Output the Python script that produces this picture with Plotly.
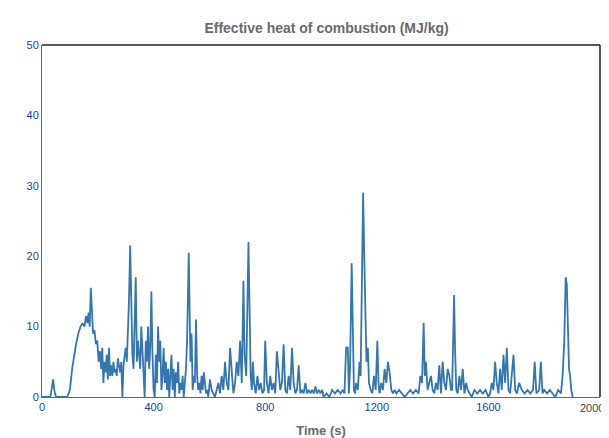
import plotly.graph_objects as go

time_s = [
    0, 30, 36, 40, 44, 50, 90, 100, 108, 115,
    122, 130, 138, 145, 152, 158, 163, 167, 171, 175,
    179, 183, 188, 193, 198, 203, 208, 212, 216, 220,
    224, 228, 232, 236, 240, 244, 248, 252, 256, 260,
    264, 268, 272, 276, 280, 284, 288, 292, 296, 300,
    304, 308, 312, 316, 320, 324, 328, 332, 336, 340,
    344, 348, 352, 356, 360, 364, 368, 372, 376, 380,
    384, 388, 392, 396, 400, 404, 408, 412, 416, 420,
    424, 428, 432, 436, 440, 444, 448, 452, 456, 460,
    464, 468, 472, 476, 480, 484, 488, 492, 496, 500,
    504, 508, 512, 516, 520, 526, 532, 536, 540, 544,
    548, 552, 556, 560, 564, 568, 572, 576, 580, 584,
    588, 592, 596, 602, 608, 614, 620, 626, 632, 638,
    644, 650, 656, 662, 668, 674, 680, 686, 692, 698,
    704, 710, 716, 722, 726, 732, 740, 744, 748, 752,
    756, 760, 766, 772, 778, 784, 790, 796, 800, 806,
    812, 818, 824, 830, 836, 842, 848, 854, 860, 866,
    872, 878, 884, 890, 896, 902, 908, 914, 920, 926,
    932, 938, 944, 950, 956, 962, 968, 974, 980, 986,
    992, 998, 1004, 1010, 1020, 1030, 1040, 1050, 1060, 1070,
    1078, 1084, 1090, 1096, 1100, 1104, 1110, 1114, 1118, 1122,
    1126, 1132, 1138, 1142, 1146, 1151, 1155, 1159, 1163, 1168,
    1172, 1178, 1184, 1190, 1196, 1202, 1206, 1210, 1216, 1222,
    1228, 1234, 1240, 1246, 1252, 1258, 1264, 1270, 1280, 1290,
    1300, 1310, 1320, 1330, 1340, 1350, 1356, 1362, 1368, 1372,
    1376, 1382, 1388, 1394, 1400, 1406, 1412, 1418, 1424, 1430,
    1436, 1442, 1448, 1454, 1460, 1466, 1470, 1477, 1481, 1485,
    1490, 1496, 1502, 1508, 1514, 1520, 1526, 1532, 1540, 1550,
    1560, 1570, 1580, 1590, 1600, 1606, 1612, 1618, 1624, 1630,
    1636, 1642, 1648, 1654, 1660, 1666, 1672, 1678, 1684, 1690,
    1696, 1702, 1710, 1720, 1730, 1740, 1750, 1760, 1766, 1772,
    1782, 1788, 1794, 1800, 1810, 1820, 1830, 1840, 1850, 1860,
    1866, 1872, 1877, 1881, 1885, 1889, 1893, 1897, 1902,
]
heat_mj_kg = [
    0, 0, 1.5, 2.5, 1, 0, 0, 1, 4, 6,
    7.5, 9, 10, 10.5, 10, 11.5, 10.5, 12, 10, 15.5,
    11, 9, 9.5, 7.5, 8, 5, 6.5, 4, 7, 2,
    5, 3.5, 6, 2.5, 7, 3, 4.5, 3, 5, 3.5,
    4, 3, 5.5, 4, 3.5, 5, 0, 4.5, 6, 7,
    5, 9, 14, 21.5, 12, 6, 4, 9, 17, 5,
    8, 6, 4, 10, 6, 3, 0, 8, 5, 10,
    4, 7, 15, 6, 1, 0, 6, 2, 10, 5,
    8, 1, 3, 7, 2, 5, 1, 4, 0, 3,
    6, 1, 4, 0, 3.5, 2, 5, 0.5, 2, 1,
    3, 0, 2, 4, 8, 20.5, 5, 9, 1, 3,
    2, 11, 3, 1, 2, 0.5, 3, 1, 3.5, 2,
    0.5, 1, 0, 2.5, 1, 0.5, 0, 1, 2, 0.5,
    3, 1, 5, 2, 1, 7, 3, 0.5, 2, 5,
    3, 8, 2, 16.5, 6, 3, 22, 10, 3, 1,
    5, 2, 0.5, 3, 1, 2, 0.5, 1, 8, 2,
    0.5, 3, 1, 2, 0.5, 6.5, 4, 1, 2, 7.5,
    1, 0.5, 3, 1, 7, 2, 0.5, 1, 4.5, 0.5,
    1, 0.5, 2, 0.5, 1, 0.5, 1, 0.5, 1.5, 0.5,
    1, 0.5, 1, 0, 0.5, 0, 1, 0.5, 1, 0.5,
    1, 0.5, 7, 7, 0.5, 4, 19, 10, 1, 0.5,
    2, 1, 5, 3, 12, 29, 20, 12, 5, 7,
    2, 1, 0.5, 3, 1, 8, 2, 0.5, 2, 1,
    4, 2, 5, 3.5, 1, 0.5, 1, 0.5, 1, 0.5,
    0, 0.5, 1, 0.5, 1, 0.5, 3, 2, 10.5, 3,
    5, 1, 2, 3, 1, 0.5, 2, 1, 4.5, 0.5,
    5, 2, 1, 4, 3, 1, 1, 14.5, 6, 1,
    0.5, 3, 1, 4, 0.5, 2, 1, 0.5, 0, 1,
    0.5, 1, 0.5, 1, 0, 0.5, 2, 1, 5, 2,
    0.5, 4, 1, 6, 2, 7, 1, 0.5, 3, 6,
    1, 0.5, 2, 1, 0.5, 1, 0.5, 1, 5, 0.5,
    1, 5, 0.5, 1, 0.5, 1, 0.5, 0, 1, 0.5,
    3, 8, 17, 16, 10, 4, 3, 1, 0,
]
x_ticks = [0, 400, 800, 1200, 1600]
x_last_tick = 2000

fig = go.Figure()
fig.add_trace(go.Scatter(x=time_s, y=heat_mj_kg, mode="lines",
                         line=dict(color="#3575b0", width=1.8), showlegend=False))

# page has an 8px body margin, so the figure is shrunk and shifted to land the plot box in place
fig.update_layout(
    width=601, height=430,
    margin=dict(l=34, r=9, t=37, b=41),
    paper_bgcolor="white", plot_bgcolor="white",
    font=dict(family="Liberation Sans, Arial", size=11, color="#1a3f9a"),
    title=dict(text="<b>Effective heat of combustion (MJ/kg)</b>", x=0.53, y=0.965,
               xanchor="center", font=dict(size=14, color="#6a6a6a")),
    xaxis=dict(range=[0, 2000], tickvals=x_ticks, showgrid=False, zeroline=False,
               showline=True, linecolor="#666", ticks="", automargin=False,
               title=dict(text="<b>Time (s)</b>", standoff=14, font=dict(size=13, color="#6a6a6a"))),
    yaxis=dict(range=[0, 50], dtick=10, showgrid=False, zeroline=False,
               showline=True, linecolor="#666", ticks="", automargin=False),
    annotations=[dict(x=x_last_tick, y=0, xref="x", yref="y", text=str(x_last_tick),
                      showarrow=False, xanchor="right", yanchor="top", yshift=-3, xshift=6,
                      font=dict(size=11, color="#444"))],
    shapes=[dict(type="line", xref="paper", yref="paper", x0=0, x1=1, y0=1, y1=1,
                 line=dict(color="#222", width=1.5)),
            dict(type="line", xref="paper", yref="paper", x0=1, x1=1, y0=0, y1=1,
                 line=dict(color="#222", width=1.5))],
)

fig.write_html("out.html")
